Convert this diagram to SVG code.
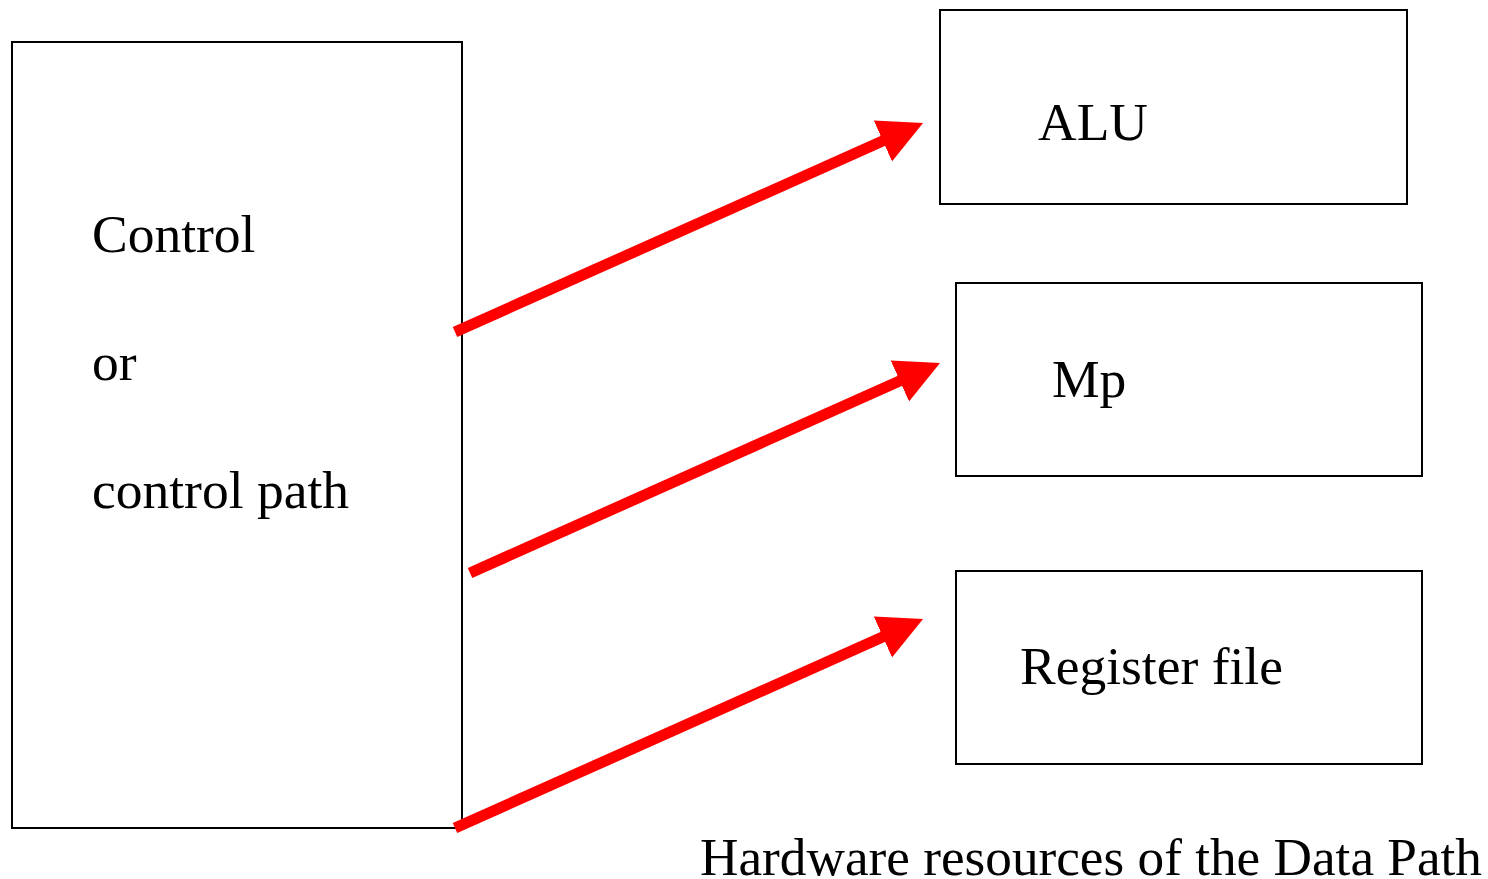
<svg xmlns="http://www.w3.org/2000/svg" width="1488" height="879" viewBox="0 0 1488 879">
  <style>
    .box { fill: #ffffff; stroke: #000000; stroke-width: 2; }
    .lbl { font-family: "Liberation Serif", "Times New Roman", serif; font-size: 53.5px; fill: #000000; }
    .link { stroke: #ff0000; stroke-width: 11; fill: none; marker-end: url(#head); }
  </style>
  <defs>
    <marker id="head" markerUnits="userSpaceOnUse" markerWidth="46" markerHeight="46" refX="4" refY="22.5" orient="auto">
      <path d="M0,0 L44,22.5 L0,45 z" fill="#ff0000"/>
    </marker>
  </defs>
  <rect width="1488" height="879" fill="#ffffff"/>

  <g id="control">
    <rect class="box" x="12" y="42" width="450" height="786"/>
    <text class="lbl" x="92" y="252">Control</text>
    <text class="lbl" x="92" y="380">or</text>
    <text class="lbl" x="92" y="508">control path</text>
  </g>

  <g id="alu">
    <rect class="box" x="940" y="10" width="467" height="194"/>
    <text class="lbl" x="1038" y="140">ALU</text>
  </g>

  <g id="mp">
    <rect class="box" x="956" y="283" width="466" height="193"/>
    <text class="lbl" x="1052" y="397">Mp</text>
  </g>

  <g id="regfile">
    <rect class="box" x="956" y="571" width="466" height="193"/>
    <text class="lbl" x="1020" y="684">Register file</text>
  </g>

  <g id="connectors">
    <line class="link" x1="455" y1="332" x2="886.5" y2="139.3"/>
    <line class="link" x1="470" y1="573" x2="903.5" y2="379.3"/>
    <line class="link" x1="455" y1="828" x2="886.5" y2="635.3"/>
  </g>

  <text id="caption" class="lbl" x="700" y="875" textLength="782" lengthAdjust="spacingAndGlyphs">Hardware resources of the Data Path</text>
</svg>
